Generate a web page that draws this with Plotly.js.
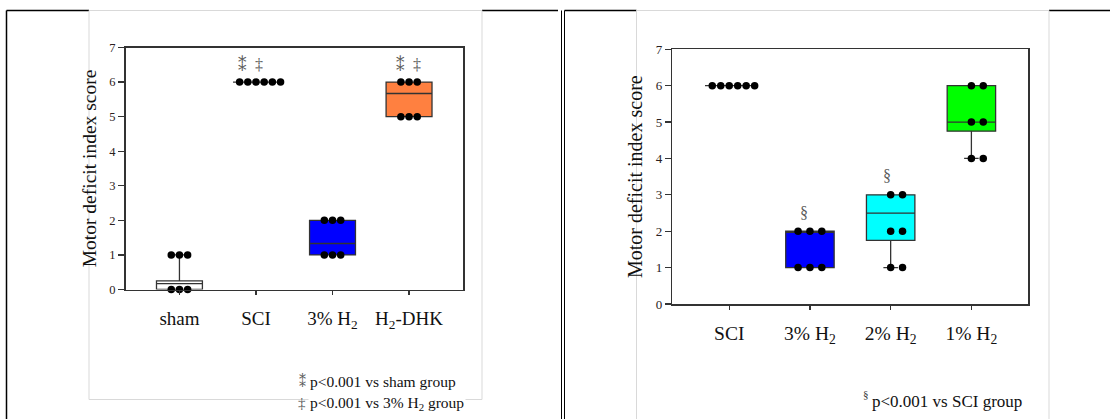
<!DOCTYPE html>
<html>
<head>
<meta charset="utf-8">
<script src="https://cdn.plot.ly/plotly-3.0.1.min.js"></script>
<style>html,body{margin:0;padding:0;background:#fff;}#chart{width:1110px;height:419px;}</style>
</head>
<body>
<div id="chart"></div>
<script>
// ---------- data ----------
const leftCategories = ['sham', 'SCI', '3% H<sub>2</sub>', 'H<sub>2</sub>-DHK'];
const leftSham = [0, 0, 0, 1, 1, 1];
const leftSCI = [6, 6, 6, 6, 6, 6];
const leftH2_3 = [1, 1, 1, 2, 2, 2];
const leftDHK = [5, 5, 5, 6, 6, 6];
const leftQ1 = [0, 6, 1, 5];
const leftMedian = [0.17, 6, 1.33, 5.67];
const leftQ3 = [0.25, 6, 2, 6];
const leftLowerWhisker = [0, 6, 1, 5];
const leftUpperWhisker = [1, 6, 2, 6];

const rightCategories = ['SCI', '3% H<sub>2</sub>', '2% H<sub>2</sub>', '1% H<sub>2</sub>'];
const rightSCI = [6, 6, 6, 6, 6, 6];
const rightH2_3 = [1, 1, 1, 2, 2, 2];
const rightH2_2 = [1, 1, 2, 2, 3, 3];
const rightH2_1 = [4, 4, 5, 5, 6, 6];
const rightQ1 = [6, 1, 1.75, 4.75];
const rightMedian = [6, 2, 2.5, 5];
const rightQ3 = [6, 2, 3, 6];
const rightLowerWhisker = [6, 1, 1, 4];
const rightUpperWhisker = [6, 2, 3, 6];

const yTickValues = [0, 1, 2, 3, 4, 5, 6, 7];

// ---------- styling ----------
const leftFill = ['#ffffff', '#ffffff', '#0000ff', '#ff8040'];
const rightFill = ['#ffffff', '#0000ff', '#00ffff', '#00ff00'];
const FONT = '"Liberation Serif", "Times New Roman", serif';
const SYMFONT = '"DejaVu Serif", "DejaVu Sans", "Noto Sans", serif';
const W = 1110, H = 419;
const px = x => x / W;
const py = y => 1 - y / H;

// spread identical values side by side (beeswarm-like), as in the figure
function dotPositions(values, center, spacingFn) {
  const counts = {};
  values.forEach(v => counts[v] = (counts[v] || 0) + 1);
  const seen = {};
  return values.map(v => {
    const n = counts[v];
    const k = seen[v] = (seen[v] === undefined ? 0 : seen[v] + 1);
    return center + (k - Math.floor((n - 1) / 2)) * spacingFn(n);
  });
}

const traces = [];
function addPanel(groups, q1, med, q3, lo, hi, fills, xa, ya, spacingFn) {
  groups.forEach((g, i) => {
    traces.push({
      type: 'box', x: [i], q1: [q1[i]], median: [med[i]], q3: [q3[i]],
      lowerfence: [lo[i]], upperfence: [hi[i]],
      width: 0.6, whiskerwidth: 0.3,
      fillcolor: fills[i], line: {color: '#333333', width: 1.3},
      boxpoints: false, xaxis: xa, yaxis: ya, showlegend: false, hoverinfo: 'skip'
    });
  });
  groups.forEach((g, i) => {
    traces.push({
      type: 'scatter', mode: 'markers', x: dotPositions(g, i, spacingFn), y: g,
      marker: {color: '#000000', size: 7.5}, cliponaxis: false,
      xaxis: xa, yaxis: ya, showlegend: false, hoverinfo: 'skip'
    });
  });
}
addPanel([leftSham, leftSCI, leftH2_3, leftDHK], leftQ1, leftMedian, leftQ3,
  leftLowerWhisker, leftUpperWhisker, leftFill, 'x', 'y', n => 0.107);
addPanel([rightSCI, rightH2_3, rightH2_2, rightH2_1], rightQ1, rightMedian, rightQ3,
  rightLowerWhisker, rightUpperWhisker, rightFill, 'x2', 'y2', n => n >= 6 ? 0.105 : 0.147);

function xAxis(domain, cats, size) {
  return {
    domain: domain, range: [-0.705, 3.705], tickvals: [0, 1, 2, 3], ticktext: cats,
    ticks: 'outside', ticklen: 4, tickcolor: '#333', tickwidth: 1.2,
    showline: true, mirror: true, linecolor: '#333', linewidth: 1.5,
    showgrid: false, zeroline: false, ticklabelstandoff: 7,
    tickfont: {family: FONT, size: size, color: '#111'}, fixedrange: true
  };
}
function yAxis(domain, anchor, tsize, titleSize, standoff) {
  return {
    domain: domain, anchor: anchor, range: [0, 7], tickvals: yTickValues,
    ticks: 'outside', ticklen: 6, tickcolor: '#333', tickwidth: 1.2,
    showline: true, mirror: true, linecolor: '#333', linewidth: 1.5,
    showgrid: false, zeroline: false,
    tickfont: {family: FONT, size: tsize, color: '#2a2020'},
    title: {text: 'Motor deficit index score', font: {family: FONT, size: titleSize, color: '#111'}, standoff: standoff},
    fixedrange: true
  };
}

const gray = '#d9d9d9';
const black = '#000000';
function line(x0, y0, x1, y1, color, w) {
  return {type: 'line', xref: 'paper', yref: 'paper', x0: px(x0), y0: py(y0), x1: px(x1), y1: py(y1),
    line: {color: color, width: w}, layer: 'below'};
}
const shapes = [
  // left frame pieces
  line(6.5, 10.5, 6.5, 419, black, 1.5),
  line(6.5, 10.5, 89, 10.5, black, 1.5),
  line(482, 10.5, 558, 10.5, black, 1.5),
  line(89, 10.5, 482, 10.5, gray, 1),
  line(89, 10.5, 89, 399.5, gray, 1),
  line(482, 10.5, 482, 399.5, gray, 1),
  line(89, 399.5, 482, 399.5, gray, 1),
  // right frame pieces
  line(561.5, 10.5, 561.5, 419, black, 1),
  line(564.5, 10.5, 564.5, 419, black, 1),
  line(564.5, 10.5, 636.5, 10.5, black, 1.5),
  line(1049, 10.5, 1110, 10.5, black, 1.5),
  line(636.5, 10.5, 1049, 10.5, gray, 1),
  line(636.5, 10.5, 636.5, 419, gray, 1),
  line(1049, 10.5, 1049, 419, gray, 1)
];

const markColor = '#5a5a5a';
function ann(text, x, y, xref, yref, size, color, xanchor, extra, family) {
  return Object.assign({text: text, x: x, y: y, xref: xref, yref: yref, showarrow: false,
    xanchor: xanchor || 'center', yanchor: 'middle',
    font: {family: family || FONT, size: size, color: color}}, extra || {});
}
const annotations = [
  // significance marks, left panel
  ann('⁑', 0.82, 6.5, 'x', 'y', 17, markColor, 'center', null, SYMFONT),
  ann('‡', 1.04, 6.52, 'x', 'y', 16, markColor),
  ann('⁑', 2.89, 6.5, 'x', 'y', 17, markColor, 'center', null, SYMFONT),
  ann('‡', 3.10, 6.52, 'x', 'y', 16, markColor),
  // significance marks, right panel
  ann('§', 0.93, 2.51, 'x2', 'y2', 16, markColor),
  ann('§', 1.95, 3.54, 'x2', 'y2', 16, markColor),
  // footnotes, left
  ann('⁑', px(302), py(381), 'paper', 'paper', 14, markColor, 'center', null, SYMFONT),
  ann('‡', px(302), py(403), 'paper', 'paper', 15, markColor),
  ann('p<0.001 vs sham group', px(308), py(381), 'paper', 'paper', 15.5, '#111', 'left'),
  ann('p<0.001 vs 3% H<sub>2</sub> group', px(308), py(403), 'paper', 'paper', 15.5, '#111', 'left', {bgcolor: '#ffffff'}),
  // footnote, right
  ann('§', px(866), py(394), 'paper', 'paper', 11, '#333'),
  ann('p<0.001 vs SCI group', px(870), py(401), 'paper', 'paper', 17, '#111', 'left')
];

const layout = {
  width: W, height: H, margin: {l: 0, r: 0, t: 0, b: 0},
  paper_bgcolor: '#ffffff', plot_bgcolor: '#ffffff',
  boxmode: 'overlay', showlegend: false,
  xaxis: xAxis([px(125.5), px(463)], leftCategories, 19),
  yaxis: yAxis([py(289.5), py(47.5)], 'x', 12.5, 19.5, 7),
  xaxis2: Object.assign(xAxis([px(672.3), px(1028.3)], rightCategories, 19.5), {anchor: 'y2'}),
  yaxis2: yAxis([py(304), py(49.3)], 'x2', 13, 20, 7),
  shapes: shapes, annotations: annotations
};

Plotly.newPlot('chart', traces, layout, {staticPlot: true, displayModeBar: false});
</script>
</body>
</html>
